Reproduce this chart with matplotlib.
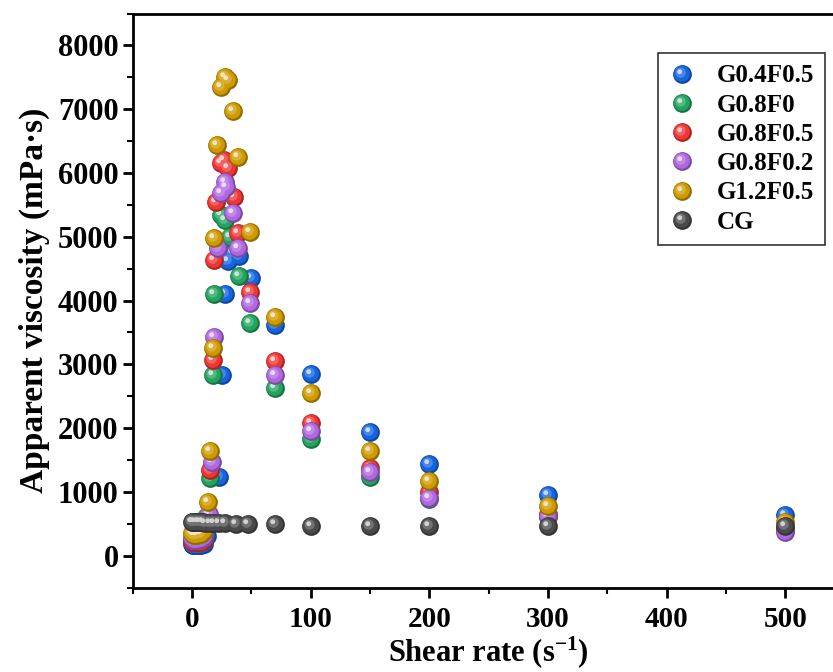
import numpy as np
import matplotlib
matplotlib.use("Agg")
import matplotlib.pyplot as plt
from matplotlib.path import Path
from matplotlib.lines import Line2D
from matplotlib.legend_handler import HandlerTuple
from matplotlib.ticker import MultipleLocator
import matplotlib.colors as mcolors

# ---------------- data ----------------
low_rates = [0.1, 0.5, 1, 2, 4, 6, 8, 10]

blue_x = low_rates + [13, 22.7, 25.6, 27.5, 30, 35, 40, 50, 70, 100, 150, 200, 300, 500]
blue_y = [180, 170, 165, 160, 160, 165, 170, 180] + [300, 1227, 2831, 4100, 4620, 4750, 4700, 4346, 3614, 2847, 1943, 1436, 956, 642]

green_x = low_rates + [12, 15.6, 17.8, 19, 24.7, 28, 32, 40, 49, 70, 100, 150, 200, 300, 500]
green_y = [240, 230, 225, 220, 220, 230, 240, 270] + [600, 1212, 2831, 4100, 5338, 5260, 4990, 4390, 3641, 2622, 1828, 1228, 880, 600, 400]

red_x = low_rates + [13, 15.6, 17.8, 19, 20.6, 24.7, 27, 30, 35.8, 38.6, 49, 70, 100, 150, 200, 300, 500]
red_y = [230, 220, 215, 210, 210, 215, 220, 240] + [500, 1342, 3066, 4633, 5547, 6150, 6200, 6070, 5625, 5052, 4137, 3050, 2079, 1374, 992, 650, 430]

purple_x = low_rates + [14, 17, 19, 22, 24.7, 27.5, 29, 34.4, 39, 49, 70, 100, 150, 200, 300, 500]
purple_y = [270, 260, 255, 250, 250, 255, 265, 290] + [650, 1472, 3432, 4817, 5680, 5860, 5780, 5365, 4817, 3955, 2830, 1959, 1306, 904, 627, 376]

gold_x = low_rates + [13.6, 15.6, 17.8, 19, 21.4, 24.7, 27.5, 30, 34.4, 38.6, 49, 70, 100, 150, 200, 300, 500]
gold_y = [360, 350, 340, 330, 330, 335, 345, 380] + [845, 1639, 3249, 4973, 6436, 7340, 7506, 7455, 6969, 6243, 5077, 3735, 2544, 1645, 1175, 783, 520]

cg_x = [0.1, 1, 3, 5, 7, 9, 11, 15, 19, 23, 27.5, 37, 47, 70, 100, 150, 200, 300, 500]
cg_y = [530, 528, 526, 524, 522, 520, 518, 515, 512, 510, 505, 500, 495, 490, 470, 468, 466, 465, 460]

series_names = ["G0.4F0.5", "G0.8F0", "G0.8F0.5", "G0.8F0.2", "G1.2F0.5", "CG"]
series_colors = ["#1565e0", "#22a45f", "#f03535", "#b068e0", "#cf9a00", "#4a4a4a"]
series_x = [blue_x, green_x, red_x, purple_x, gold_x, cg_x]
series_y = [blue_y, green_y, red_y, purple_y, gold_y, cg_y]

x_ticks = [0, 100, 200, 300, 400, 500]
y_ticks = [0, 1000, 2000, 3000, 4000, 5000, 6000, 7000, 8000]

# ---------------- style ----------------
plt.rcParams["font.family"] = ["Liberation Serif", "DejaVu Serif"]
plt.rcParams["font.weight"] = "bold"
plt.rcParams["mathtext.fontset"] = "custom"
plt.rcParams["mathtext.rm"] = "Liberation Serif:bold"
plt.rcParams["mathtext.bf"] = "Liberation Serif:bold"
plt.rcParams["mathtext.default"] = "bf"


def ball_path(cx, cy, r):
    circ = Path.circle((cx, cy), r)
    anchor = Path([[1, 1], [1, 1], [-1, -1], [-1, -1]],
                  [Path.MOVETO, Path.LINETO, Path.MOVETO, Path.LINETO])
    return Path.make_compound_path(circ, anchor)


def shade(c, f):
    rgb = np.array(mcolors.to_rgb(c))
    if f >= 0:
        return tuple(rgb + (1 - rgb) * f)
    return tuple(rgb * (1 + f))


LAYERS = [((0, 0), 1.0, -0.3),
          ((-0.08, 0.08), 0.86, 0.0),
          ((-0.2, 0.2), 0.55, 0.22),
          ((-0.3, 0.3), 0.26, 0.75)]
MS = 13.5

fig = plt.figure(figsize=(8.33, 6.72), dpi=100)
ax = fig.add_axes([132.6 / 833, 84.5 / 672, 712 / 833, 574 / 672])

legend_handles = []
for name, col, xs, ys in zip(series_names, series_colors, series_x, series_y):
    hs = []
    for (c, r, f) in LAYERS:
        ax.plot(xs, ys, ls="none", marker=ball_path(c[0], c[1], r), ms=MS,
                mfc=shade(col, f), mec="none", mew=0, clip_on=True)
        hs.append(Line2D([], [], ls="none", marker=ball_path(c[0], c[1], r), ms=MS,
                         mfc=shade(col, f), mec="none", mew=0))
    legend_handles.append(tuple(hs))

ax.set_xlim(-50, 550)
ax.set_ylim(-500, 8500)
ax.set_xticks(x_ticks)
ax.set_yticks(y_ticks)
ax.xaxis.set_minor_locator(MultipleLocator(50))
ax.yaxis.set_minor_locator(MultipleLocator(500))
ax.tick_params(axis="both", which="major", direction="out", length=7, width=2)
ax.tick_params(axis="x", which="major", labelsize=21, pad=6)
ax.tick_params(axis="y", which="major", labelsize=22, pad=3)
ax.tick_params(axis="both", which="minor", direction="out", length=4, width=1.5)
ax.tick_params(top=False, right=False, which="both")
for lab in ax.get_xticklabels() + ax.get_yticklabels():
    lab.set_fontweight("bold")
for sp in ax.spines.values():
    sp.set_linewidth(2)

xl = ax.set_xlabel("Shear rate (s$^{-1}$)", fontsize=22, fontweight="bold")
xl.set_va("bottom")
ax.xaxis.set_label_coords(0.5, (2 - 84.5) / 574)
ax.set_ylabel("Apparent viscosity (mPa·s)", fontsize=24, fontweight="bold", labelpad=6)

leg = ax.legend(legend_handles, series_names,
                handler_map={tuple: HandlerTuple(ndivide=1, pad=0)},
                loc="upper left", bbox_to_anchor=(0.738, 0.931),
                frameon=True, fancybox=False, edgecolor="black",
                prop={"family": "Liberation Serif", "weight": "bold", "size": 18},
                handlelength=1.0, handletextpad=0.9, labelspacing=0.25,
                borderpad=0.45, borderaxespad=0)
leg.get_frame().set_linewidth(1.2)

fig.savefig("out.png", dpi=100)
